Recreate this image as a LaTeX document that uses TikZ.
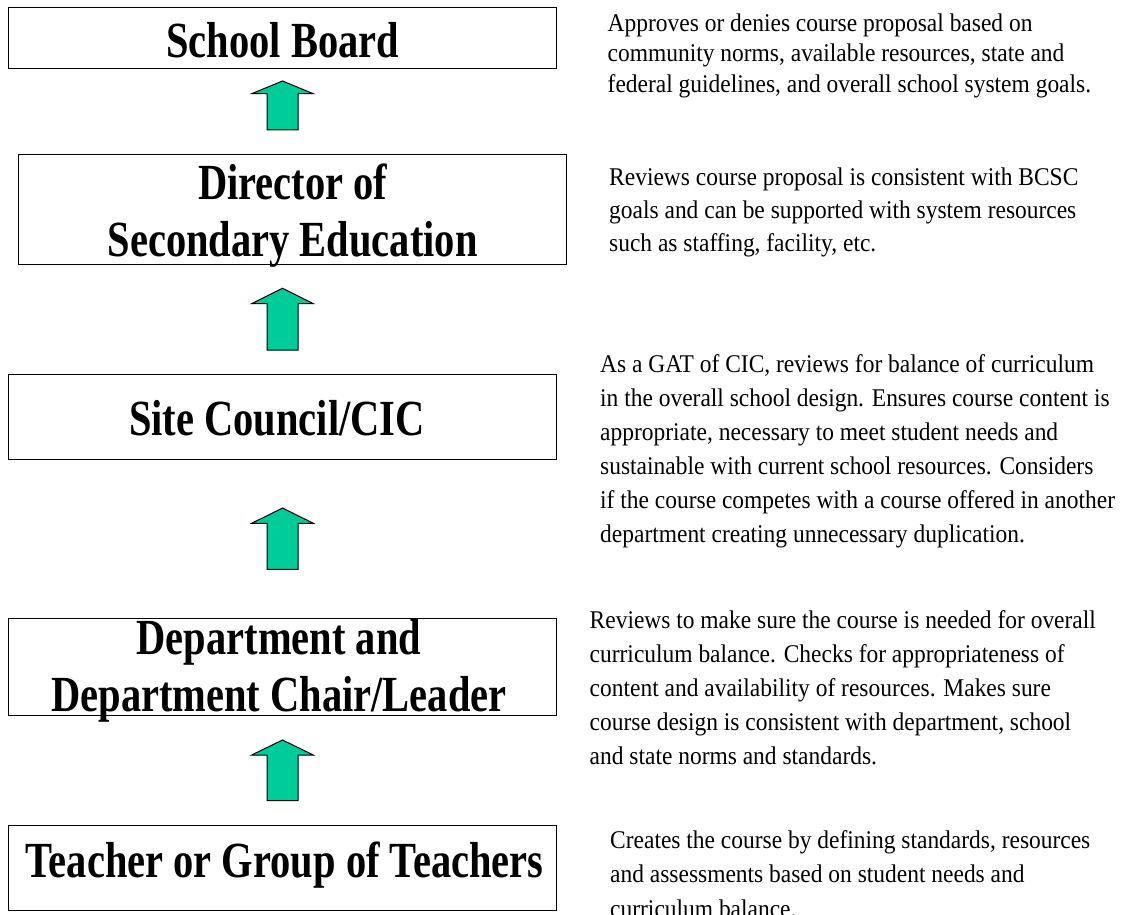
\documentclass[tikz,border=0pt]{standalone}
\usepackage{fontspec}
\setmainfont{Liberation Serif}
\newfontfamily\titlefont{Liberation Serif}[FakeStretch=0.80]
\newfontfamily\descfont{Liberation Serif}[FakeStretch=0.92]
\definecolor{arrowgreen}{RGB}{0,204,153}
\tikzset{
  stagebox/.style={draw, line width=1pt, inner sep=0pt},
  stagetext/.style={font=\titlefont\bfseries\fontsize{50.6}{57.2}\selectfont, align=center, inner sep=0pt, anchor=base},
  note/.style={font=\descfont\fontsize{25.5}{#1}\selectfont, align=left, inner sep=0pt, anchor=base west},
  uparrow/.style={draw, fill=arrowgreen, line width=1pt, line join=miter}
}
\begin{document}
\begin{tikzpicture}[x=1pt,y=-1pt]
              \useasboundingbox (0,0) rectangle (1132,915);
              \node[stagebox, minimum width=548.6, minimum height=61] (board) at (282.4,38.5) {};
              \node[stagebox, minimum width=548.2, minimum height=110] (director) at (292.6,209.3) {};
              \node[stagebox, minimum width=548.6, minimum height=85.3] (site) at (282.4,416.7) {};
              \node[stagebox, minimum width=548.4, minimum height=97.4] (dept) at (282.6,667) {};
              \node[stagebox, minimum width=548.4, minimum height=85] (teacher) at (282.6,868.2) {};
              \node[stagetext] (boardtxt) at (282.6,57.3) {School Board};
              \node[stagetext] (directortxt) at (292.6,256.7) {Director of\\Secondary Education};
              \node[stagetext] (sitetxt) at (277,435) {Site Council/CIC};
              \node[stagetext] (depttxt) at (279,711.7) {Department and\\Department Chair/Leader};
              \node[stagetext] (teachertxt) at (284.5,877.7) {Teacher or Group of Teachers};
              \draw[uparrow] (267,130) -- (267,93.7) -- (251.7,93.7) -- (282.5,81) -- (313.3,93.7) -- (298,93.7) -- (298,130) -- cycle;
              \draw[uparrow] (267,350) -- (267,303.7) -- (251.7,303.7) -- (282.5,288.3) -- (313.3,303.7) -- (298,303.7) -- (298,350) -- cycle;
              \draw[uparrow] (267,569.3) -- (267,523.3) -- (251.7,523.3) -- (282.5,508) -- (313.3,523.3) -- (298,523.3) -- (298,569.3) -- cycle;
              \draw[uparrow] (267,800.7) -- (267,755) -- (251.7,755) -- (282.5,740) -- (313.3,755) -- (298,755) -- (298,800.7) -- cycle;
              \node[note=30.3] (boardnote) at (607.5,92.3) {Approves or denies course proposal based on\\community norms, available resources, state and\\federal guidelines, and overall school system goals.};
              \node[note=33] (directornote) at (609,251.5) {Reviews course proposal is consistent with BCSC\\goals and can be supported with system resources\\such as staffing, facility, etc.};
              \node[note=34] (sitenote) at (600,542) {As a GAT of CIC, reviews for balance of curriculum\\in the overall school design.  Ensures course content is\\appropriate, necessary to meet student needs and\\sustainable with current school resources.  Considers\\if the course competes with a course offered in another\\department creating unnecessary duplication.};
              \node[note=34] (deptnote) at (589.5,764) {Reviews to make sure the course is needed for overall\\curriculum balance.  Checks for appropriateness of\\content and availability of resources. Makes sure\\course design is consistent with department, school\\and state norms and standards.};
              \node[note=34.5] (teachernote) at (610,917) {Creates the course by defining standards, resources\\and assessments based on student needs and\\curriculum balance.};
            \end{tikzpicture}
\end{document}
